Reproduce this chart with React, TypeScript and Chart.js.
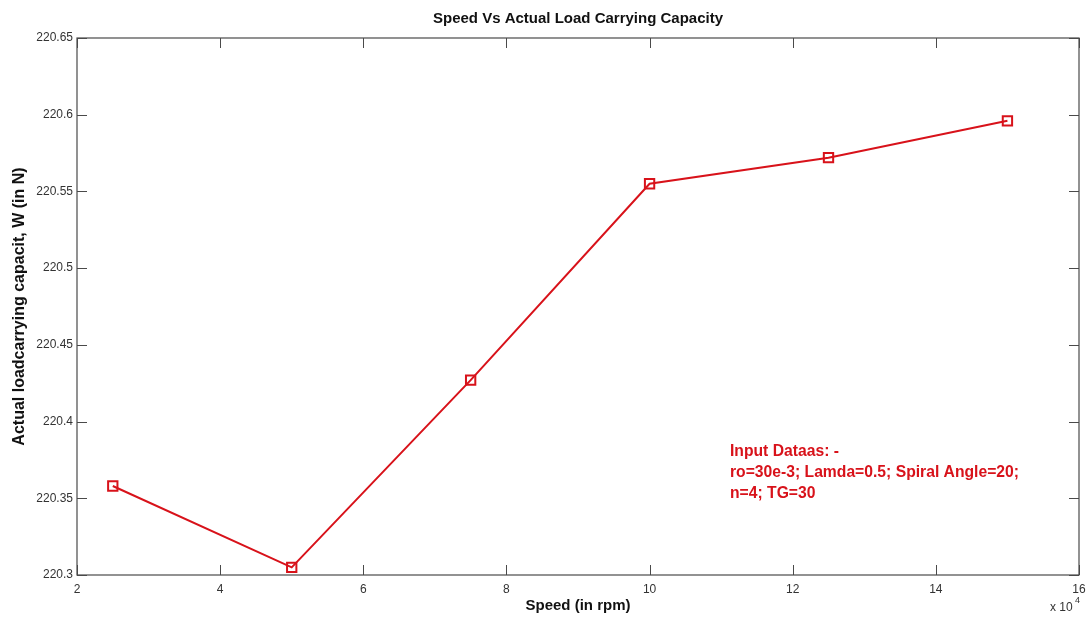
import React, { useEffect, useRef } from "react";
import { Chart, registerables } from "chart.js";

Chart.register(...registerables);

// Speed in units of 10^4 rpm
const speeds: number[] = [2.5, 5, 7.5, 10, 12.5, 15];
// Actual load carrying capacity W (N)
const loads: number[] = [220.358, 220.305, 220.427, 220.555, 220.572, 220.596];

const xTicks: number[] = [2, 4, 6, 8, 10, 12, 14, 16];
const yTicks: number[] = [220.3, 220.35, 220.4, 220.45, 220.5, 220.55, 220.6, 220.65];

const titleText = "Speed Vs Actual Load Carrying Capacity";
const xTitle = "Speed (in rpm)";
const yTitle = "Actual loadcarrying capacit, W (in N)";
const noteLines: string[] = [
  "Input Dataas: -",
  "ro=30e-3; Lamda=0.5; Spiral Angle=20;",
  "n=4; TG=30",
];

const FONT = "'Liberation Sans', Arial, sans-serif";
const AXIS_COLOR = "#4a4a4a";
const RED = "#d8121a";

const decorations = {
  id: "decorations",
  afterDraw(chart: any) {
    const { ctx, chartArea } = chart;
    const { left, right, top, bottom } = chartArea;
    const xs = chart.scales.x;
    const ys = chart.scales.y;
    ctx.save();

    // frame
    ctx.strokeStyle = AXIS_COLOR;
    ctx.lineWidth = 1.2;
    ctx.strokeRect(left, top, right - left, bottom - top);

    // inward ticks on all four sides
    const tl = 10;
    ctx.beginPath();
    xTicks.forEach((v) => {
      const px = Math.round(xs.getPixelForValue(v)) + 0.5;
      ctx.moveTo(px, bottom);
      ctx.lineTo(px, bottom - tl);
      ctx.moveTo(px, top);
      ctx.lineTo(px, top + tl);
    });
    yTicks.forEach((v) => {
      const py = Math.round(ys.getPixelForValue(v)) + 0.5;
      ctx.moveTo(left, py);
      ctx.lineTo(left + tl, py);
      ctx.moveTo(right, py);
      ctx.lineTo(right - tl, py);
    });
    ctx.lineWidth = 1;
    ctx.stroke();

    // title
    const cx = (left + right) / 2;
    ctx.fillStyle = "#111";
    ctx.font = `bold 15px ${FONT}`;
    ctx.textAlign = "center";
    ctx.textBaseline = "middle";
    ctx.fillText(titleText, cx, 19);

    // x axis title
    ctx.font = `bold 15px ${FONT}`;
    ctx.fillText(xTitle, cx, 606);

    // y axis title
    ctx.save();
    ctx.translate(20, (top + bottom) / 2);
    ctx.rotate(-Math.PI / 2);
    ctx.font = `bold 16px ${FONT}`;
    ctx.fillText(yTitle, 0, 0);
    ctx.restore();

    // exponent marker
    ctx.fillStyle = "#333";
    ctx.font = `12px ${FONT}`;
    ctx.textAlign = "left";
    ctx.fillText("x 10", 1050, 608);
    ctx.font = `9px ${FONT}`;
    ctx.fillText("4", 1075, 601);

    // input data note
    ctx.fillStyle = RED;
    ctx.font = `bold 15.7px ${FONT}`;
    ctx.textAlign = "left";
    noteLines.forEach((line, i) => {
      ctx.fillText(line, 730, 452 + i * 21);
    });

    ctx.restore();
  },
};

export default function App() {
  const canvasRef = useRef<HTMLCanvasElement | null>(null);

  useEffect(() => {
    document.body.style.margin = "0";
    const canvas = canvasRef.current;
    if (!canvas) return;
    const chart = new Chart(canvas, {
      type: "line",
      data: {
        datasets: [
          {
            data: speeds.map((s, i) => ({ x: s, y: loads[i] })),
            borderColor: RED,
            borderWidth: 2,
            pointStyle: "rect",
            pointRadius: 6.6,
            pointBorderWidth: 2,
            pointBackgroundColor: "rgba(0,0,0,0)",
            pointBorderColor: RED,
            tension: 0,
          },
        ],
      },
      plugins: [decorations],
      options: {
        animation: false,
        responsive: true,
        maintainAspectRatio: false,
        layout: { padding: { left: 0, top: 38, right: 9, bottom: 0 } },
        plugins: {
          legend: { display: false },
          tooltip: { enabled: false },
          title: { display: false },
        },
        scales: {
          x: {
            type: "linear",
            min: 2,
            max: 16,
            afterFit: (s: any) => {
              s.height = 44;
              s.paddingLeft = 0;
              s.paddingRight = 0;
            },
            afterBuildTicks: (s: any) => {
              s.ticks = xTicks.map((v) => ({ value: v }));
            },
            grid: { display: false, drawTicks: false },
            border: { display: false },
            ticks: {
              padding: 7,
              color: "#333",
              font: { family: FONT, size: 12 },
              maxRotation: 0,
              callback: (v: any) => String(v),
            },
          },
          y: {
            type: "linear",
            min: 220.3,
            max: 220.65,
            afterFit: (s: any) => {
              s.width = 77;
              s.paddingTop = 0;
              s.paddingBottom = 0;
            },
            afterBuildTicks: (s: any) => {
              s.ticks = yTicks.map((v) => ({ value: v }));
            },
            grid: { display: false, drawTicks: false },
            border: { display: false },
            ticks: {
              padding: 4,
              color: "#333",
              font: { family: FONT, size: 12 },
              callback: (v: any) => String(parseFloat(Number(v).toFixed(2))),
            },
          },
        },
      },
    });
    return () => chart.destroy();
  }, []);

  return (
    <div style={{ position: "fixed", left: 0, top: 0, width: 1088, height: 619, background: "#fff" }}>
      <canvas ref={canvasRef} />
    </div>
  );
}
